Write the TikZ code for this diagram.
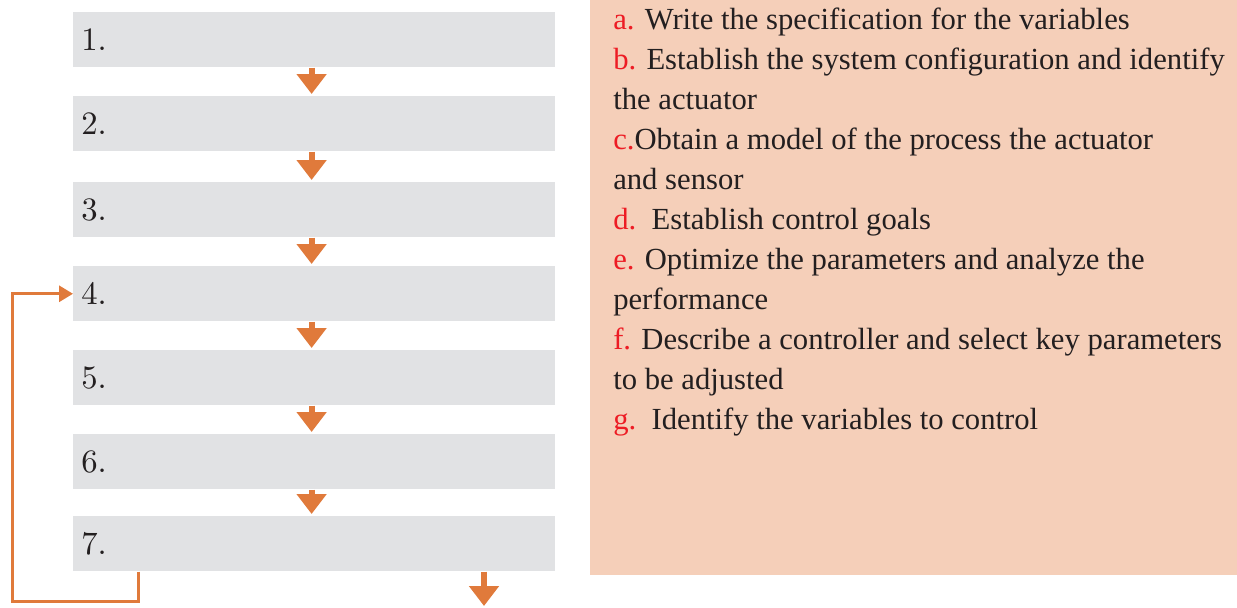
\documentclass[tikz,border=0pt]{standalone}
\usepackage{fontspec}
\newfontfamily\specfont{Liberation Serif}
\newfontfamily\stepfont{lmroman10-regular.otf}
\usetikzlibrary{calc}
\usetikzlibrary{arrows.meta}

\definecolor{boxgray}{HTML}{E1E2E4}
\definecolor{floworange}{HTML}{E07A3B}
\definecolor{panelpeach}{HTML}{F5CFB9}
\definecolor{specred}{HTML}{ED1C24}
\definecolor{textdark}{HTML}{231F20}
\newcommand{\lbl}[1]{\textcolor{specred}{#1}}

\begin{document}
\begin{tikzpicture}[
      x=0.75pt, y=-0.75pt,
      stepbox/.style={fill=boxgray, anchor=north west, minimum height=41.25pt, text width=349.5pt,
        inner xsep=6pt, inner ysep=0pt, align=left, text=textdark, font=\stepfont\fontsize{24.5}{30}\selectfont},
      flowarrow/.style={draw=floworange, line width=4.5pt, -{Triangle[length=15pt, width=21.75pt]}},
      loopline/.style={draw=floworange, line width=2.25pt, -{Triangle[length=10.5pt, width=12pt]}},
      ]
      \useasboundingbox (0,0) rectangle (1237,607);

      % steps
      \node[stepbox] (s1) at (73,12) {1.};
      \node[stepbox] (s2) at (73,96) {2.};
      \node[stepbox] (s3) at (73,182) {3.};
      \node[stepbox] (s4) at (73,266) {4.};
      \node[stepbox] (s5) at (73,350) {5.};
      \node[stepbox] (s6) at (73,434) {6.};
      \node[stepbox] (s7) at (73,516) {7.};

      \draw[flowarrow] ([xshift=-2pt]s1.south) -- ([xshift=-2pt,yshift=1.5pt]s2.north);
      \draw[flowarrow] ([xshift=-2pt]s2.south) -- ([xshift=-2pt,yshift=1.5pt]s3.north);
      \draw[flowarrow] ([xshift=-2pt]s3.south) -- ([xshift=-2pt,yshift=1.5pt]s4.north);
      \draw[flowarrow] ([xshift=-2pt]s4.south) -- ([xshift=-2pt,yshift=1.5pt]s5.north);
      \draw[flowarrow] ([xshift=-2pt]s5.south) -- ([xshift=-2pt,yshift=1.5pt]s6.north);
      \draw[flowarrow] ([xshift=-2pt]s6.south) -- ([xshift=-2pt,yshift=1.5pt]s7.north);

      % output and feedback
      \coordinate (out) at (484,606);
      \draw[flowarrow] (s7.south -| out) -- (out);

      \coordinate (fbstart) at ($(s7.south west)+(65,0)$);
      \coordinate (fb) at (12,601);
      \draw[loopline] (fbstart) |- (fb) |- (s4.west);

      % list of steps
      \fill[panelpeach] (590,0) rectangle (1237,575);
      \node[anchor=north west, inner sep=0pt, align=left, text=textdark,
        font=\specfont\fontsize{23}{30}\selectfont] (spec) at (613,8) {%
        \lbl{a.} Write the specification for the variables\\
        \lbl{b.} Establish the system configuration and identify\\
        the actuator\\
        \lbl{c.}Obtain a model of the process the actuator\\
        and sensor\\
        \lbl{d.}\ \ Establish control goals\\
        \lbl{e.} Optimize the parameters and analyze the\\
        performance\\
        \lbl{f.} Describe a controller and select key parameters\\
        to be adjusted\\
        \lbl{g.}\ \ Identify the variables to control};

    \end{tikzpicture}
\end{document}
